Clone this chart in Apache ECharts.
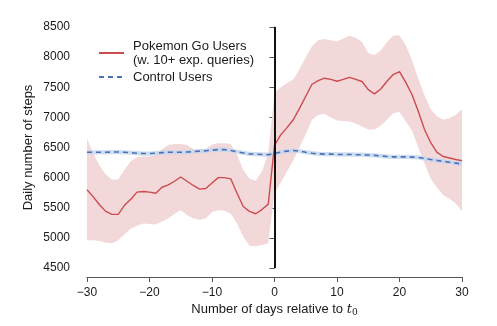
<!DOCTYPE html>
<html><head><meta charset="utf-8">
<script src="https://cdn.jsdelivr.net/npm/echarts@6/dist/echarts.min.js"></script>
<style>html,body{margin:0;padding:0;background:#fff}#c{width:497px;height:326px}</style>
</head><body><div id="c"></div>
<script>
const days = [];
for (let d = -30; d <= 30; d++) days.push(d);
const pokemonMean = [5800,5680,5550,5440,5390,5390,5540,5640,5760,5770,5760,5740,5840,5880,5940,6010,5940,5870,5810,5820,5910,6000,6000,5980,5740,5520,5440,5400,5470,5560,
  6540,6710,6830,6960,7150,7350,7550,7610,7650,7630,7600,7630,7665,7630,7595,7460,7390,7470,7600,7710,7760,7580,7380,7100,6800,6580,6420,6350,6325,6300,6280];
const pokemonUpper = [6650,6400,6200,6050,5970,5970,6130,6270,6340,6350,6350,6380,6470,6540,6560,6560,6540,6470,6460,6470,6550,6570,6570,6560,6380,6130,5980,5950,6100,6400,
  7410,7500,7570,7630,7800,8000,8180,8280,8300,8280,8260,8310,8360,8320,8250,8070,8035,8110,8250,8360,8360,8200,7950,7640,7370,7130,7020,6960,6990,7040,7140];
const pokemonLower = [4960,4960,4950,4920,4910,4960,5060,5150,5200,5240,5230,5220,5270,5320,5400,5460,5380,5320,5300,5320,5430,5460,5450,5400,5240,5020,4870,4860,4880,4910,
  5740,5920,6100,6290,6500,6720,6960,7040,7060,7000,6950,6940,6930,6900,6850,6800,6800,6860,6960,7070,7090,6930,6780,6500,6240,5980,5830,5710,5650,5570,5440];
const controlMean = [6420,6420,6420,6420,6425,6425,6420,6415,6405,6400,6400,6405,6415,6420,6420,6420,6425,6430,6440,6445,6455,6465,6465,6450,6430,6410,6395,6390,6385,6380,
  6400,6425,6440,6450,6440,6420,6405,6395,6390,6390,6385,6385,6385,6380,6380,6375,6370,6360,6350,6345,6345,6345,6340,6335,6320,6300,6285,6270,6255,6240,6225];
const controlHalfWidth = [35];
const xTicks = [-30,-20,-10,0,10,20,30];
const yTicks = [4500,5000,5500,6000,6500,7000,7500,8000,8500];

const pair = arr => days.map((d,i) => [d, arr[i]]);
const hw = controlHalfWidth[0];
const cLower = controlMean.map(v => v - hw);
const cUpper = controlMean.map(v => v + hw);
const bandData = (lo, hi) => days.map((d,i) => [d, lo[i], hi[i]]);

const BANDS = {
  pBand: {lo: pokemonLower, hi: pokemonUpper},
  cBand: {lo: cLower, hi: cUpper}
};
function bandRenderer(color) {
  return function (params, api) {
    if (params.dataIndex !== 0) return null;
    const b = BANDS[params.seriesName];
    const top = [], bot = [];
    for (let i = 0; i < days.length; i++) {
      top.push(api.coord([days[i], b.hi[i]]));
      bot.push(api.coord([days[i], b.lo[i]]));
    }
    return {type: 'polygon', shape: {points: top.concat(bot.reverse())}, style: {fill: color, stroke: null}, silent: true};
  };
}

const font = 'Liberation Sans, Arial, Helvetica, sans-serif';
const textColor = '#1a1a1a';
const axisColor = '#555';
const redName = 'Pokemon Go Users\n(w. 10+ exp. queries)';

const chart = echarts.init(document.getElementById('c'), null, {renderer:'canvas'});
chart.setOption({
  animation: false,
  backgroundColor: '#fff',
  textStyle: {fontFamily: font},
  grid: {left: 87, right: 35, top: 27, bottom: 58},
  legend: {
    orient: 'vertical', left: 93, top: 34, itemWidth: 25, itemHeight: 10, itemGap: 3,
    data: [redName, 'Control Users'],
    itemStyle: {opacity: 0},
    textStyle: {fontFamily: font, fontSize: 13, color: textColor, lineHeight: 14, padding: [0,0,0,4]}
  },
  xAxis: {
    type: 'value', min: xTicks[0], max: xTicks[xTicks.length-1], interval: 10,
    offset: 9,
    axisLine: {show: true, lineStyle: {color: axisColor, width: 1}},
    axisTick: {show: true, length: 5, lineStyle: {color: axisColor}},
    splitLine: {show: false},
    axisLabel: {fontSize: 12, color: textColor, margin: 10, fontFamily: font,
      formatter: v => (v < 0 ? '\u2212' + Math.abs(v) : String(v))},
    name: 'Number of days relative to {i|t}{s|0}',
    nameLocation: 'middle', nameGap: 25, nameMoveOverlap: false,
    nameTextStyle: {fontSize: 13, color: textColor, fontFamily: font,
      rich: {i: {fontStyle: 'italic', fontSize: 13, fontFamily: 'DejaVu Serif, serif', color: textColor},
             s: {fontSize: 9, verticalAlign: 'bottom', padding: [6,0,0,0], fontFamily: 'DejaVu Serif, serif', color: textColor}}}
  },
  yAxis: {
    type: 'value', min: yTicks[0], max: yTicks[yTicks.length-1], interval: 500,
    offset: 8,
    axisLine: {show: true, lineStyle: {color: axisColor, width: 1}},
    axisTick: {show: true, length: 5, lineStyle: {color: axisColor}},
    splitLine: {show: false},
    axisLabel: {fontSize: 12, color: textColor, margin: 9, fontFamily: font, formatter: v => String(v)},
    name: 'Daily number of steps', nameLocation: 'middle', nameGap: 44, nameMoveOverlap: false,
    nameTextStyle: {fontSize: 13, color: textColor, fontFamily: font}
  },
  series: [
    {type: 'custom', name: 'pBand', data: bandData(pokemonLower, pokemonUpper), renderItem: bandRenderer('#f3d8da'),
      encode: {x: 0, y: [1, 2]}, silent: true, z: 1, clip: true},
    {type: 'custom', name: 'cBand', data: bandData(cLower, cUpper), renderItem: bandRenderer('rgba(195,212,238,0.8)'),
      encode: {x: 0, y: [1, 2]}, silent: true, z: 2, clip: true},
    {type: 'line', name: 'Control Users', data: pair(controlMean), symbol: 'none', z: 3,
      itemStyle: {color: '#4a72b8'},
      lineStyle: {color: '#4a72b8', width: 1.6, type: [5,4]}},
    {type: 'line', name: redName, data: pair(pokemonMean), symbol: 'none', z: 4,
      itemStyle: {color: '#cc4b4f'},
      lineStyle: {color: '#cc4b4f', width: 1.4},
      markLine: {silent: true, symbol: 'none', label: {show: false},
        lineStyle: {color: '#111', width: 2, type: 'solid'},
        data: [{xAxis: 0}]}}
  ]
});
</script></body></html>
